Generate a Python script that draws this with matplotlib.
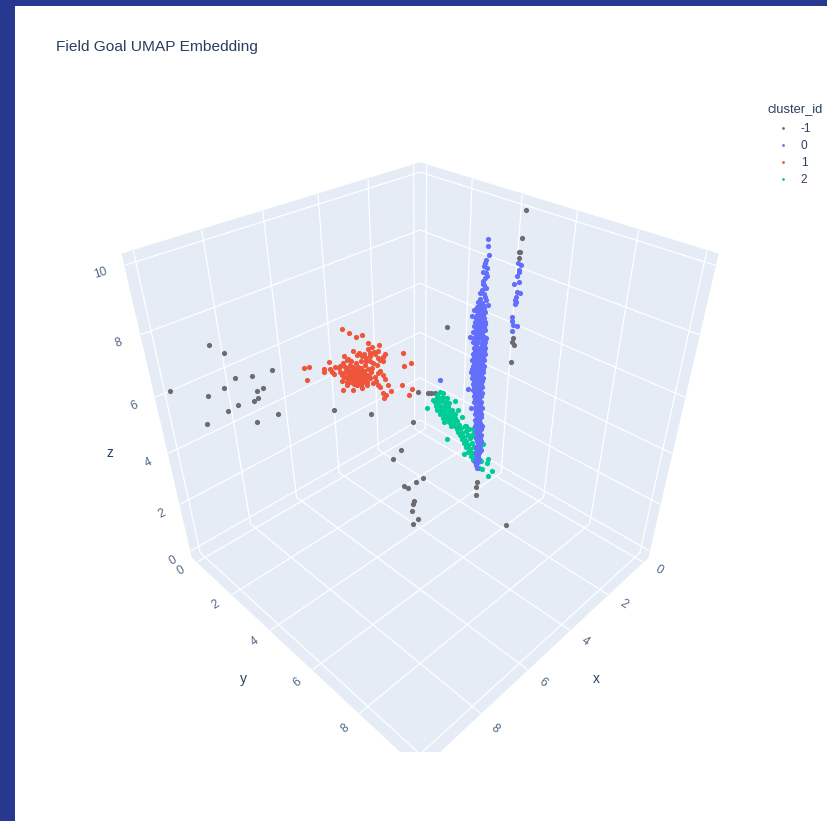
import matplotlib
matplotlib.use("Agg")
import matplotlib.pyplot as plt
from matplotlib.lines import Line2D
from matplotlib.patches import Rectangle

# UMAP embedding values
gray_x = [-0.13, -0.11, -0.08, -0.05, -0.08, -0.08, -0.05, -0.11, -0.07,
          9.04, 8.78, 7.9, 8.31, 8.64, 8.12, 8.89, 8.25, 9.99, 9.24, 8.25, 8.33, 8.68, 8.89, 7.89,
          8.34, 9.36, 6.74, 6.0, 5.05, 4.85, 4.79, 4.7, 5.15, 5.4, 5.57, 4.94, 5.09, 5.35, 5.27,
          5.13, 5.16, 5.19, 5.04, 5.16, 3.77, 3.79, 3.77, 3.06, 4.49]
gray_y = [4.30, 4.28, 4.25, 4.22, 4.25, 4.25, 4.22, 4.28, 4.24,
          0.96, 1.22, 2.10, 1.69, 1.36, 1.88, 1.11, 1.75, 0.01, 0.76, 1.75, 1.67, 1.32, 1.11, 2.11,
          1.66, 0.64, 3.26, 4.00, 4.95, 5.15, 5.21, 5.30, 4.85, 4.60, 4.43, 5.06, 4.91, 4.65, 4.73,
          4.87, 4.84, 4.81, 4.96, 4.84, 6.23, 6.21, 6.23, 6.94, 5.51]
gray_z = [9.95, 9.08, 8.63, 8.61, 8.43, 5.63, 5.49, 5.35, 4.69,
          7.67, 7.44, 6.89, 6.69, 6.64, 6.32, 6.30, 6.22, 6.21, 6.02, 5.96, 5.87, 5.73, 5.53, 5.41,
          5.15, 5.08, 5.56, 5.43, 6.18, 6.13, 6.13, 6.14, 5.13, 4.13, 3.79, 3.06, 2.89, 2.76, 2.66,
          2.15, 2.03, 1.73, 1.39, 1.17, 2.89, 2.72, 2.38, 1.15, 8.23]

blue_x = [-0.05, -0.12, -0.10, -0.10, -0.06, -0.11, -0.01, -0.09, -0.16, -0.07, -0.05, -0.07, -0.06, -0.02, -0.03,
          -0.06, -0.14, -0.03,
          1.50, 1.49, 1.45, 1.51, 1.53, 1.49, 1.50, 1.51, 1.56, 1.53, 1.56, 1.52, 1.60, 1.47, 1.43,
          1.56, 1.66, 1.71, 1.55, 1.76, 1.62, 1.51, 1.70, 1.57, 1.46, 1.77, 1.71, 1.58, 1.48, 1.66,
          1.51, 2.42, 1.77, 1.68, 1.48, 1.55, 1.56, 1.47, 1.55, 1.48, 1.60, 1.49, 1.66, 1.58, 1.49,
          1.68, 1.62, 1.53, 1.46, 1.63, 1.54, 1.48, 1.67, 1.60, 1.52, 1.43, 1.69, 1.62, 1.53, 1.44,
          1.71, 1.59, 1.48, 1.68, 1.59, 1.50, 1.43, 1.65, 1.54, 1.45, 1.69, 1.60, 1.51, 1.42, 1.67,
          1.56, 1.47, 1.71, 1.62, 1.53, 1.44, 1.66, 1.57, 1.48, 1.68, 1.59, 1.50, 1.43, 1.70, 1.61,
          1.52, 1.45, 1.72, 1.63, 1.54, 1.45, 1.67, 1.58, 1.49, 1.69, 1.60, 1.51, 1.44, 1.64, 1.55,
          1.46, 1.66, 1.57, 1.48, 1.64, 1.52, 1.45, 1.66, 1.59, 1.49, 1.61, 1.51, 1.45, 1.63, 1.56,
          1.46, 1.60, 1.51, 1.62, 1.55, 1.46, 1.57, 1.48, 1.59, 1.52, 1.43, 1.56, 1.47, 1.58, 1.51,
          1.44, 1.53, 1.44, 1.58, 1.48, 1.55, 1.45, 1.57, 1.50, 1.40, 1.52, 1.42, 1.54, 1.47, 1.49,
          1.41, 1.53, 1.43, 1.50, 1.41, 1.48, 1.43, 1.52, 1.45, 1.47, 1.39, 1.51, 1.44, 1.48, 1.51,
          1.43, 1.53, 1.45, 1.50, 1.64, 1.53, 1.61, 1.50, 1.65, 1.52, 1.59, 1.64, 1.56, 1.47, 1.53,
          1.61, 1.50, 1.65, 1.54, 1.45, 1.65, 1.56, 1.46, 1.64, 1.46, 1.58, 1.49, 1.65, 1.60, 1.49,
          1.62, 1.53, 1.55, 1.63, 1.57, 1.68, 1.58, 1.49, 1.63, 1.54, 1.65, 1.55, 1.60, 1.51, 1.62,
          1.53, 1.57, 1.54, 1.56, 1.51, 1.55, 1.50, 1.52, 1.54, 1.52, 1.47, 1.49, 1.53, 1.50, 1.45,
          1.47, 1.49, 1.44, 1.48, 1.46]
blue_y = [4.22, 4.29, 4.27, 4.27, 4.23, 4.28, 4.18, 4.26, 4.33, 4.24, 4.22, 4.24, 4.23, 4.19, 4.20,
          4.23, 4.31, 4.20,
          4.26, 4.27, 4.31, 4.25, 4.23, 4.27, 4.26, 4.25, 4.20, 4.23, 4.20, 4.24, 4.16, 4.29, 4.33,
          4.20, 4.10, 4.05, 4.21, 4.00, 4.14, 4.25, 4.06, 4.19, 4.30, 3.99, 4.05, 4.18, 4.28, 4.10,
          4.25, 3.34, 3.99, 4.08, 4.28, 4.21, 4.20, 4.29, 4.21, 4.28, 4.16, 4.27, 4.10, 4.18, 4.27,
          4.08, 4.14, 4.23, 4.30, 4.13, 4.22, 4.28, 4.09, 4.16, 4.24, 4.33, 4.07, 4.14, 4.23, 4.32,
          4.05, 4.17, 4.28, 4.08, 4.17, 4.26, 4.33, 4.11, 4.22, 4.31, 4.07, 4.16, 4.25, 4.34, 4.09,
          4.20, 4.29, 4.05, 4.14, 4.23, 4.32, 4.10, 4.19, 4.28, 4.08, 4.17, 4.26, 4.33, 4.06, 4.15,
          4.24, 4.31, 4.04, 4.13, 4.22, 4.31, 4.09, 4.18, 4.27, 4.07, 4.16, 4.25, 4.32, 4.12, 4.21,
          4.30, 4.10, 4.19, 4.28, 4.12, 4.24, 4.31, 4.10, 4.17, 4.27, 4.15, 4.25, 4.31, 4.13, 4.20,
          4.30, 4.16, 4.25, 4.14, 4.21, 4.30, 4.19, 4.28, 4.17, 4.24, 4.33, 4.20, 4.29, 4.18, 4.25,
          4.32, 4.23, 4.32, 4.18, 4.28, 4.21, 4.31, 4.19, 4.26, 4.36, 4.24, 4.34, 4.22, 4.29, 4.27,
          4.35, 4.23, 4.33, 4.26, 4.35, 4.28, 4.33, 4.24, 4.31, 4.29, 4.37, 4.25, 4.32, 4.28, 4.25,
          4.33, 4.23, 4.31, 4.26, 4.12, 4.23, 4.15, 4.26, 4.11, 4.24, 4.17, 4.12, 4.20, 4.29, 4.23,
          4.15, 4.26, 4.11, 4.22, 4.31, 4.11, 4.20, 4.30, 4.12, 4.30, 4.18, 4.27, 4.11, 4.16, 4.27,
          4.14, 4.23, 4.21, 4.13, 4.19, 4.08, 4.18, 4.27, 4.13, 4.22, 4.11, 4.21, 4.16, 4.25, 4.14,
          4.23, 4.19, 4.22, 4.20, 4.25, 4.21, 4.26, 4.24, 4.22, 4.24, 4.29, 4.27, 4.23, 4.26, 4.31,
          4.29, 4.27, 4.32, 4.28, 4.30]
blue_z = [8.27, 8.20, 8.03, 7.96, 7.83, 7.63, 7.55, 7.29, 7.24, 7.09, 7.00, 6.94, 6.85, 6.38, 6.23,
          6.09, 6.08, 5.87,
          9.48, 9.27, 9.00, 8.84, 8.74, 8.58, 8.42, 8.26, 8.18, 8.05, 7.88, 7.74, 7.59, 7.55, 7.39,
          7.44, 7.33, 7.22, 7.27, 7.02, 7.11, 7.05, 6.67, 6.88, 6.74, 6.28, 6.47, 6.53, 6.29, 6.07,
          6.00, 4.69, 4.35, 3.62, 1.08, 8.66, 8.47, 8.34, 8.08, 7.95, 7.79, 7.65, 6.94, 6.94, 6.94,
          6.81, 6.81, 6.81, 6.81, 6.63, 6.63, 6.63, 6.42, 6.42, 6.42, 6.25, 6.25, 6.25, 6.25, 6.10,
          6.10, 6.10, 6.10, 5.89, 5.89, 5.89, 5.89, 5.78, 5.78, 5.78, 5.67, 5.67, 5.67, 5.67, 5.56,
          5.56, 5.56, 5.45, 5.45, 5.45, 5.45, 5.34, 5.34, 5.34, 5.23, 5.23, 5.23, 5.23, 5.12, 5.12,
          5.12, 5.12, 5.01, 5.01, 5.01, 5.01, 4.89, 4.89, 4.89, 4.78, 4.78, 4.78, 4.78, 4.67, 4.67,
          4.67, 4.55, 4.55, 4.55, 4.44, 4.44, 4.44, 4.32, 4.32, 4.32, 4.20, 4.20, 4.20, 4.09, 4.09,
          4.09, 3.97, 3.97, 3.85, 3.85, 3.85, 3.73, 3.73, 3.61, 3.61, 3.61, 3.49, 3.49, 3.37, 3.37,
          3.37, 3.25, 3.25, 3.13, 3.13, 3.00, 3.00, 2.88, 2.88, 2.88, 2.76, 2.76, 2.63, 2.63, 2.51,
          2.51, 2.38, 2.38, 2.25, 2.25, 2.12, 2.12, 2.00, 2.00, 1.87, 1.87, 1.74, 1.74, 1.61, 1.48,
          1.48, 1.34, 1.34, 1.21, 7.49, 7.39, 7.35, 7.28, 7.22, 7.18, 7.25, 7.05, 7.05, 7.15, 6.94,
          6.74, 6.70, 6.53, 6.46, 6.53, 6.32, 6.32, 6.18, 6.00, 6.00, 5.78, 5.67, 5.67, 5.45, 5.45,
          5.30, 5.34, 5.23, 5.12, 5.12, 5.12, 5.01, 5.01, 5.01, 4.89, 4.89, 4.89, 4.78, 4.67, 4.55,
          4.55, 4.44, 4.32, 4.20, 4.09, 3.97, 3.85, 3.73, 3.61, 3.49, 3.37, 3.25, 3.13, 3.00, 2.88,
          2.76, 2.63, 2.51, 2.38, 2.25]

red_x = [5.53, 5.39, 5.25, 5.14, 5.01, 4.80, 4.93, 5.03, 5.33, 5.22, 5.11, 4.89, 4.81, 4.68, 4.30,
         5.53, 5.26, 4.98, 4.83, 4.71, 4.72, 4.14, 4.28, 5.86, 5.48, 5.55, 4.99, 4.92, 5.41, 5.18,
         5.73, 5.62, 6.39, 6.29, 5.96, 5.85, 5.97, 5.81, 6.35, 5.63, 5.60, 5.49, 5.35, 5.24, 5.10,
         5.03, 5.42, 5.32, 5.21, 5.13, 5.02, 4.79, 4.84, 4.73, 4.69, 5.49, 5.61, 5.36, 5.25, 5.16,
         5.08, 5.00, 4.94, 4.83, 4.62, 4.32, 4.11, 4.18, 4.57, 4.75, 4.67, 4.73, 5.59, 5.39, 5.19,
         5.51, 5.29, 5.43, 5.22, 5.32, 5.53, 5.44, 5.36, 5.27, 5.18, 5.12, 5.47, 5.38, 5.30, 5.21,
         5.15, 5.06, 5.43, 5.34, 5.26, 5.19, 5.11, 5.39, 5.31, 5.24, 5.16, 5.29, 5.35, 5.20, 5.07,
         5.50, 5.56, 4.98, 4.90, 4.95, 5.52, 4.84, 5.65, 5.76, 4.88, 4.80, 4.98, 5.07, 5.15, 4.88,
         4.78, 5.45, 5.39, 5.28, 5.07]
red_y = [2.35, 2.49, 2.63, 2.74, 2.87, 3.08, 2.95, 2.85, 2.55, 2.66, 2.77, 2.99, 3.07, 3.20, 3.58,
         2.35, 2.62, 2.90, 3.05, 3.17, 3.16, 3.74, 3.60, 2.02, 2.40, 2.33, 2.89, 2.96, 2.47, 2.70,
         2.15, 2.26, 1.49, 1.59, 1.92, 2.03, 1.91, 2.07, 1.53, 2.25, 2.28, 2.39, 2.53, 2.64, 2.78,
         2.85, 2.46, 2.56, 2.67, 2.75, 2.86, 3.09, 3.04, 3.15, 3.19, 2.39, 2.27, 2.52, 2.63, 2.72,
         2.80, 2.88, 2.94, 3.05, 3.26, 3.56, 3.77, 3.70, 3.31, 3.13, 3.21, 3.15, 2.29, 2.49, 2.69,
         2.37, 2.59, 2.45, 2.66, 2.56, 2.35, 2.44, 2.52, 2.61, 2.70, 2.76, 2.41, 2.50, 2.58, 2.67,
         2.73, 2.82, 2.45, 2.54, 2.62, 2.69, 2.77, 2.49, 2.57, 2.64, 2.72, 2.59, 2.53, 2.68, 2.81,
         2.38, 2.32, 2.90, 2.98, 2.93, 2.36, 3.04, 2.23, 2.12, 3.00, 3.08, 2.90, 2.81, 2.73, 3.00,
         3.10, 2.43, 2.49, 2.60, 2.81]
red_z = [7.35, 7.22, 7.10, 7.17, 6.92, 6.83, 6.77, 6.70, 6.65, 6.58, 6.53, 6.62, 6.63, 6.54, 6.56,
         6.47, 6.49, 6.56, 6.41, 6.43, 6.28, 6.24, 6.13, 6.26, 6.33, 6.22, 6.28, 6.22, 6.16, 6.31,
         6.10, 6.14, 6.05, 6.09, 6.01, 6.01, 5.91, 5.93, 5.64, 5.93, 5.81, 6.05, 6.08, 6.10, 6.16,
         6.01, 5.87, 5.93, 5.99, 5.87, 5.78, 5.96, 5.87, 5.81, 5.67, 5.70, 5.61, 5.75, 5.81, 5.70,
         5.58, 5.70, 5.54, 5.46, 5.45, 5.47, 5.33, 5.11, 5.23, 5.16, 5.09, 5.00, 5.28, 5.28, 5.34,
         5.46, 5.46, 5.58, 5.58, 5.64, 5.92, 5.99, 5.95, 6.02, 6.06, 5.95, 5.78, 5.81, 5.88, 5.88,
         5.78, 5.81, 5.67, 5.71, 5.74, 5.78, 5.67, 5.57, 5.57, 5.64, 5.57, 5.46, 5.50, 5.46, 5.46,
         5.57, 5.74, 5.92, 5.74, 6.06, 6.09, 6.16, 6.06, 5.85, 5.60, 5.39, 6.47, 6.40, 6.47, 6.54,
         6.33, 6.37, 6.30, 6.23, 6.30]

green_x = [3.24, 3.31, 3.18, 2.90, 3.40, 3.53, 3.09, 2.83, 2.73, 3.05, 3.13, 2.65, 2.24, 2.09, 2.10,
           1.98, 2.07, 2.23, 2.30, 2.25, 2.29, 2.47, 2.67, 3.30, 3.23, 3.17, 3.34, 3.28, 3.19, 3.10,
           3.03, 3.32, 3.23, 3.14, 3.05, 3.30, 3.21, 3.12, 3.03, 2.96, 3.23, 3.14, 3.05, 2.96, 2.89,
           3.16, 3.07, 2.98, 2.89, 3.02, 2.93, 2.84, 2.97, 2.88, 2.79, 2.93, 2.84, 2.75, 2.81, 2.72,
           2.63, 2.76, 2.67, 2.58, 2.71, 2.62, 2.53, 2.47, 2.67, 2.57, 2.48, 2.40, 2.62, 2.52, 2.43,
           2.56, 2.47, 2.38, 2.49, 2.40, 2.44, 2.33, 2.77, 2.56, 2.64, 2.49, 2.32]
green_y = [4.11, 4.04, 4.17, 4.45, 3.95, 3.82, 4.26, 4.52, 4.62, 4.30, 4.22, 4.70, 5.11, 5.26, 5.25,
           5.37, 5.28, 5.12, 5.05, 5.10, 5.06, 4.88, 4.68, 4.05, 4.12, 4.18, 4.01, 4.07, 4.16, 4.25,
           4.32, 4.03, 4.12, 4.21, 4.30, 4.05, 4.14, 4.23, 4.32, 4.39, 4.12, 4.21, 4.30, 4.39, 4.46,
           4.19, 4.28, 4.37, 4.46, 4.33, 4.42, 4.51, 4.38, 4.47, 4.56, 4.42, 4.51, 4.60, 4.54, 4.63,
           4.72, 4.59, 4.68, 4.77, 4.64, 4.73, 4.82, 4.88, 4.68, 4.78, 4.87, 4.95, 4.73, 4.83, 4.92,
           4.79, 4.88, 4.97, 4.86, 4.95, 4.91, 5.02, 4.58, 4.79, 4.71, 4.86, 5.03]
green_z = [4.98, 4.86, 4.92, 4.62, 4.67, 4.37, 4.73, 4.28, 4.01, 3.17, 3.82, 2.56, 2.96, 2.36, 2.16,
           1.85, 1.64, 1.94, 1.95, 2.27, 2.78, 3.55, 3.69, 4.74, 4.74, 4.78, 4.59, 4.59, 4.63, 4.59,
           4.56, 4.44, 4.44, 4.44, 4.41, 4.29, 4.29, 4.29, 4.25, 4.29, 4.14, 4.14, 4.10, 4.10, 4.14,
           3.99, 3.99, 3.95, 3.99, 3.83, 3.83, 3.87, 3.68, 3.68, 3.71, 3.79, 3.56, 3.60, 3.44, 3.40,
           3.48, 3.32, 3.24, 3.32, 3.16, 3.08, 3.20, 3.36, 3.00, 2.92, 3.00, 3.24, 2.84, 2.76, 2.84,
           2.63, 2.59, 2.67, 2.47, 2.43, 2.30, 2.47, 3.60, 3.56, 3.68, 3.28, 3.12]

cluster_ids = ["-1", "0", "1", "2"]
cluster_colors = ["#6B6B70", "#636EFA", "#EF553B", "#00CC96"]
ticks = [0, 2, 4, 6, 8, 10]

plt.rcParams["font.family"] = ["Liberation Sans", "DejaVu Sans"]
plt.rcParams["grid.color"] = "white"
plt.rcParams["grid.linewidth"] = 0.9
text_color = "#2a3f5f"
tick_color = "#506784"

fig = plt.figure(figsize=(8.27, 8.21), dpi=100)
ax = fig.add_axes([105 / 827, 80 / 821, 613.6 / 827, 613.6 / 821], projection="3d")
ax.set_box_aspect((1, 1, 1))
ax.view_init(elev=35.264, azim=45)
ax.set_proj_type("persp", focal_length=0.2382)
ax.set_xlim(-0.3, 10.3, view_margin=0)
ax.set_ylim(-0.3, 10.3, view_margin=0)
ax.set_zlim(-0.3, 10.3, view_margin=0)
ax.patch.set_alpha(0)
ax.computed_zorder = False

for axis in [ax.xaxis, ax.yaxis, ax.zaxis]:
    axis.set_pane_color("#E5ECF6")
    axis.pane.set_edgecolor("#E5ECF6")
    axis.line.set_color((0, 0, 0, 0))
    axis.set_ticks(ticks)
    axis.set_ticklabels([])
ax.tick_params(axis="both", color=(0, 0, 0, 0), length=0)

ax.scatter(gray_x, gray_y, gray_z, s=14, c=cluster_colors[0], linewidths=0, depthshade=False, zorder=3)
ax.scatter(red_x, red_y, red_z, s=14, c=cluster_colors[2], linewidths=0, depthshade=False, zorder=4)
ax.scatter(green_x, green_y, green_z, s=14, c=cluster_colors[3], linewidths=0, depthshade=False, zorder=5)
ax.scatter(blue_x, blue_y, blue_z, s=14, c=cluster_colors[1], linewidths=0, depthshade=False, zorder=6)

# zdir only sets the slant of the label here
for t in ticks[:-1]:
    ax.text(t + 0.25, 11.0, 0.0, str(t), zdir=(0, 1, 0), color=tick_color, fontsize=8.6, ha="center", va="center")
    ax.text(11.0, t + 0.25, 0.0, str(t), zdir=(-1, 0, 0), color=tick_color, fontsize=8.6, ha="center", va="center")
for t in ticks:
    ax.text(10.95, -0.3, t, str(t), zdir=(-1, 0, 0), color=tick_color, fontsize=8.6, ha="center", va="center")
ax.text(5.25, 12.05, 0.2, "x", color=text_color, fontsize=10, ha="center", va="center")
ax.text(12.05, 5.25, 0.2, "y", color=text_color, fontsize=10, ha="center", va="center")
ax.text(11.95, -0.3, 4.9, "z", color=text_color, fontsize=10, ha="center", va="center")

# page around the plot: the scene is cut off at the bottom, dark band top and left
fig.patches.append(Rectangle((0, 0), 1, 69 / 821, transform=fig.transFigure, fc="white", ec="none", zorder=5))
fig.patches.append(Rectangle((0, 0), 15 / 827, 1, transform=fig.transFigure, fc="#26388F", ec="none", zorder=6))
fig.patches.append(Rectangle((0, 1 - 6 / 821), 1, 6 / 821, transform=fig.transFigure, fc="#26388F", ec="none", zorder=6))
fig.text(56 / 827, 1 - 47.5 / 821, "Field Goal UMAP Embedding", color=text_color, fontsize=11.15, va="center", ha="left")

handles = [Line2D([], [], ls="", marker="o", ms=2, mew=0, color=c) for c in cluster_colors]
leg = fig.legend(handles, cluster_ids, title="cluster_id", loc="upper left", bbox_to_anchor=(767 / 827, 1 - 103 / 821),
                 frameon=False, fontsize=8.6, title_fontsize=9.3, labelspacing=0.40, handletextpad=0.17, handlelength=2.67,
                 borderpad=0, borderaxespad=0, alignment="left")
leg._legend_box.sep = 6.1
leg.get_title().set_color(text_color)
for t in leg.get_texts():
    t.set_color(text_color)

fig.savefig("out.png", dpi=100)
